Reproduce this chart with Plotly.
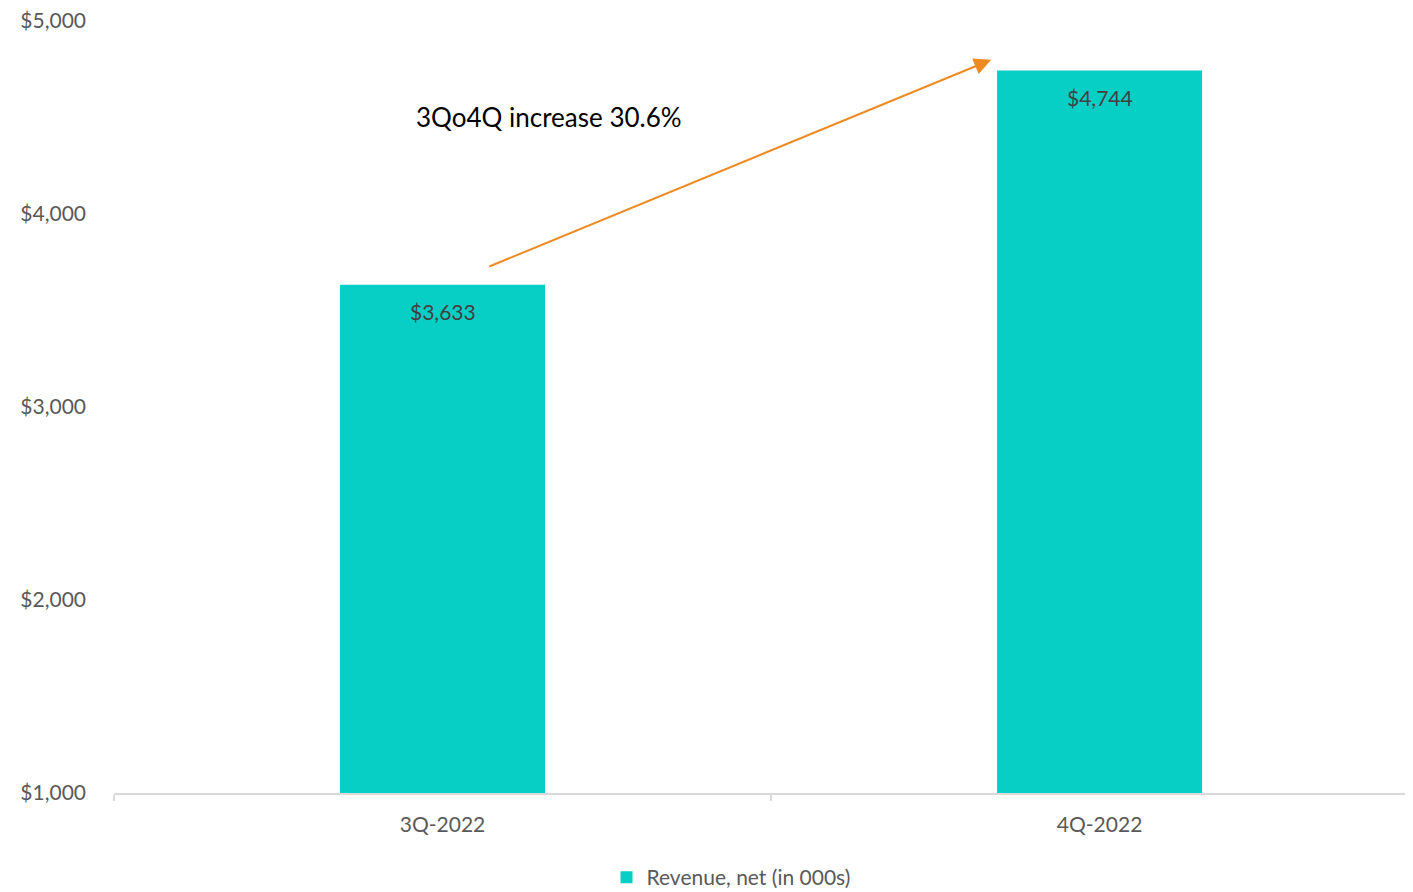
import plotly.graph_objects as go

# data
quarters = ['3Q-2022', '4Q-2022']
revenue = [3633, 4744]
series_name = 'Revenue, net (in 000s)'
growth_text = '3Qo4Q increase 30.6%'
y_ticks = [1000, 2000, 3000, 4000, 5000]
y_tick_labels = ['$1,000', '$2,000', '$3,000', '$4,000', '$5,000']

#----------------------------------------------------------------------
bar_color = '#07cfc5'
grey_txt = '#595959'
font_name = 'Lato, Open Sans, sans-serif'

fig = go.Figure()

fig.add_trace(go.Bar(x = quarters, y = revenue, name = series_name,
                     marker = dict(color = bar_color, line = dict(width = 0)),
                     width = 0.312, showlegend = True))

# value labels just under the top of each bar
for q, v in zip(quarters, revenue):
    fig.add_annotation(x = q, y = v, text = '${:,}'.format(v), showarrow = False,
                       yshift = -27, font = dict(size = 21, color = '#404040', family = font_name))

# growth arrow + text
fig.add_annotation(x = 0.835, y = 4799, ax = 0.069, ay = 3725,
                   xref = 'x', yref = 'y', axref = 'x', ayref = 'y',
                   text = '', showarrow = True, arrowhead = 2, arrowsize = 1.7,
                   arrowwidth = 2, arrowcolor = '#ee8a22')
fig.add_annotation(x = 0.162, y = 4505, xref = 'x', yref = 'y', text = growth_text,
                   showarrow = False, font = dict(size = 26, color = '#000000', family = font_name))

# page body has an 8px margin, so the figure is a bit smaller than the window
fig.update_layout(width = 1405, height = 884,
                  plot_bgcolor = 'white', paper_bgcolor = 'white',
                  margin = dict(l = 106, r = 0, t = 13, b = 99, autoexpand = False),
                  font = dict(family = font_name, size = 21, color = grey_txt),
                  legend = dict(orientation = 'h', x = 0.475, xanchor = 'center',
                                y = -0.083, yanchor = 'top',
                                font = dict(size = 21, color = grey_txt),
                                itemwidth = 30))

fig.update_xaxes(type = 'category', range = [-0.5, 1.477],
                 showline = True, linecolor = '#d9d9d9', linewidth = 2,
                 ticks = 'outside', tickson = 'boundaries', ticklen = 6,
                 tickcolor = '#d9d9d9', tickwidth = 2, showgrid = False,
                 ticklabelstandoff = 12,
                 tickfont = dict(size = 21, color = grey_txt))
fig.update_yaxes(range = [1000, 5000], tickvals = y_ticks, ticktext = y_tick_labels,
                 showgrid = False, showline = False, zeroline = False,
                 ticklen = 0, ticklabelstandoff = 27, ticklabeloverflow = 'allow',
                 tickfont = dict(size = 21, color = grey_txt))

fig.write_html('out.html')
